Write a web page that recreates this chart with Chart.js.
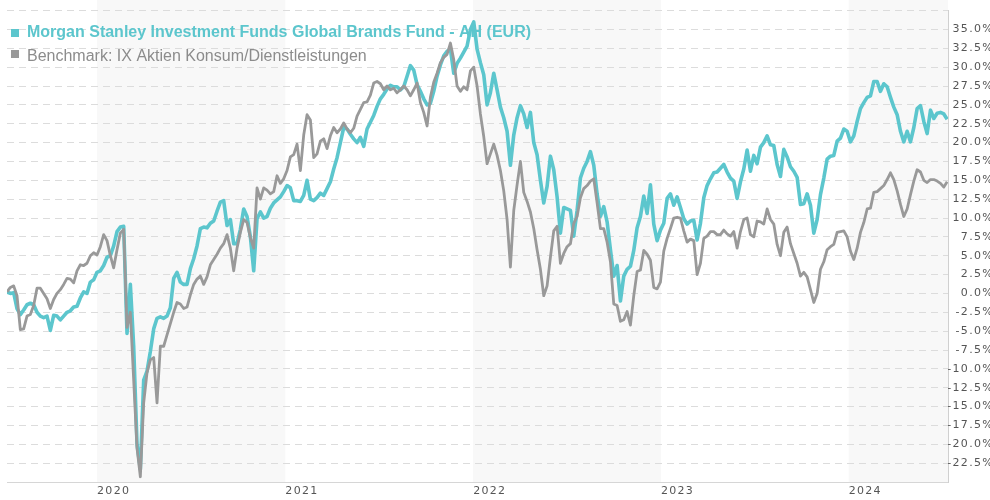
<!DOCTYPE html>
<html>
<head>
<meta charset="utf-8">
<style>
html,body{margin:0;padding:0;background:#fff;overflow:hidden;}
#wrap{width:990px;height:500px;position:relative;overflow:hidden;}
</style>
<script src="https://cdn.jsdelivr.net/npm/chart.js@4.4.1/dist/chart.umd.min.js"></script>
</head>
<body>
<div id="wrap"><canvas id="c" width="990" height="500"></canvas></div>
<script>
// ---- data ----
const fundName = 'Morgan Stanley Investment Funds Global Brands Fund - AH (EUR)';
const benchName = 'Benchmark: IX Aktien Konsum/Dienstleistungen';
const startDate = Date.UTC(2019, 6, 10);   // first observation
const endDate = Date.UTC(2024, 6, 12);     // right edge of the plot
const stepDays = 6.48;                     // spacing of observations
const yearTicks = [2020, 2021, 2022, 2023, 2024];
const shadedYears = [2020, 2022, 2024];
const yTicks = [-25, -22.5, -20, -17.5, -15, -12.5, -10, -7.5, -5, -2.5, 0, 2.5, 5, 7.5, 10, 12.5, 15, 17.5, 20, 22.5, 25, 27.5, 30, 32.5, 35, 37.5];

const fund = [
 0.2, 0.0, 0.1, -2.0, -2.8, -2.2, -1.5, -1.3, -1.5, -2.5,
 -3.0, -3.2, -3.0, -4.9, -2.9, -3.0, -3.5, -3.0, -2.5, -2.3,
 -1.8, -1.7, -0.6, 0.2, 0.0, 1.5, 1.8, 2.8, 3.0, 3.7,
 4.8, 5.0, 6.3, 8.2, 8.8, 8.9, -5.3, 1.2, -7.0, -20.0,
 -23.3, -11.5, -10.3, -7.7, -4.7, -3.3, -3.1, -3.3, -3.0, -1.9,
 2.0, 2.8, 1.5, 1.2, 1.2, 3.3, 4.6, 6.3, 8.6, 8.8,
 8.7, 9.3, 9.6, 10.9, 12.1, 12.3, 9.0, 9.8, 6.6, 6.6,
 8.5, 11.2, 10.2, 7.5, 3.0, 9.9, 10.8, 10.0, 10.2, 11.3,
 12.0, 12.4, 12.8, 13.5, 14.3, 14.0, 12.3, 12.3, 12.2, 13.0,
 15.0, 12.5, 12.3, 12.7, 13.3, 13.0, 13.9, 14.8, 16.5, 18.0,
 20.0, 22.0, 21.8, 21.1, 20.5, 20.0, 20.7, 19.5, 21.8, 22.7,
 23.6, 24.8, 25.8, 26.4, 27.1, 27.6, 27.4, 27.4, 27.0, 27.4,
 28.8, 30.2, 29.6, 27.7, 26.8, 25.8, 25.0, 25.2, 26.8, 28.8,
 30.3, 31.5, 32.1, 32.4, 29.2, 30.5, 31.2, 32.0, 32.8, 35.0,
 36.0, 32.4, 30.6, 29.0, 25.0, 26.6, 29.2, 27.0, 24.7, 23.3,
 21.5, 17.0, 21.0, 23.3, 24.9, 23.8, 22.0, 24.0, 20.0, 18.4,
 15.0, 12.0, 14.2, 18.2, 16.4, 12.8, 8.0, 11.4, 11.2, 11.0,
 7.6, 11.0, 15.3, 16.6, 17.5, 18.8, 17.0, 13.2, 10.2, 11.5,
 9.5, 5.8, 2.3, 3.7, -1.0, 2.3, 3.2, 3.6, 5.7, 8.7,
 10.2, 12.9, 10.6, 14.4, 9.2, 7.0, 8.4, 9.3, 12.6, 13.2,
 11.7, 12.8, 11.4, 9.9, 9.2, 9.6, 9.7, 7.1, 9.3, 12.7,
 14.3, 15.2, 16.0, 16.1, 16.6, 17.1, 16.1, 15.3, 14.9, 12.6,
 14.8, 16.5, 19.0, 16.2, 18.3, 17.2, 19.4, 20.0, 20.9, 19.7,
 19.6, 17.1, 15.5, 19.1, 18.1, 16.8, 16.2, 15.4, 11.8, 11.9,
 13.2, 11.7, 8.0, 9.8, 13.1, 15.3, 17.8, 18.2, 18.3, 20.2,
 20.6, 21.8, 21.5, 20.1, 20.9, 22.8, 24.5, 25.3, 26.0, 26.2,
 28.1, 28.1, 26.8, 27.8, 27.4, 26.0, 24.7, 23.7, 21.5, 20.1,
 21.5, 20.1, 22.0, 24.5, 24.9, 22.8, 21.2, 24.3, 23.2, 23.9,
 24.0, 23.8, 23.1
];

const benchmark = [
 0.2, 0.8, 1.0, -0.3, -4.8, -4.7, -3.0, -2.8, -1.6, 0.7,
 0.7, 0.0, -0.7, -2.0, -0.8, 0.0, 0.5, 1.2, 2.0, 1.9,
 1.4, 3.0, 3.8, 3.7, 4.0, 5.0, 5.4, 5.1, 6.2, 7.8,
 7.0, 5.0, 3.4, 5.8, 8.0, 8.5, -4.5, -2.5, -11.5, -20.5,
 -24.3, -14.5, -10.5, -8.8, -8.5, -14.5, -7.0, -7.0, -5.5, -4.0,
 -2.5, -1.2, -1.4, -2.0, -1.8, -0.2, 1.2, 1.9, 2.3, 1.2,
 2.2, 3.8, 4.5, 5.2, 6.0, 6.6, 7.8, 6.0, 3.0, 6.0,
 8.1, 9.8, 9.4, 7.4, 6.0, 14.0, 12.5, 14.0, 13.7, 13.2,
 13.5, 15.6, 14.6, 15.2, 16.3, 18.1, 18.4, 19.8, 16.3, 21.0,
 23.7, 23.0, 18.0, 18.5, 20.2, 20.5, 19.2, 20.9, 22.0, 21.3,
 21.8, 22.6, 21.8, 21.3, 21.9, 23.5, 24.4, 25.3, 25.4, 26.3,
 27.9, 28.1, 27.8, 27.0, 27.5, 27.0, 27.2, 26.6, 27.0, 27.5,
 27.0, 26.2, 27.0, 27.9, 25.3, 24.0, 22.2, 26.0, 28.0, 29.2,
 30.6, 31.3, 31.7, 33.2, 31.0, 27.5, 26.8, 27.4, 27.0, 29.5,
 30.0, 27.5, 23.8, 20.8, 17.2, 18.5, 19.8, 18.3, 16.3, 13.6,
 9.8, 3.5, 11.0, 14.4, 17.5, 13.4, 12.2, 10.8, 8.6, 5.8,
 3.2, -0.3, 1.0, 4.8, 8.3, 8.9, 4.0, 5.3, 6.2, 6.6,
 9.3, 10.2, 12.7, 13.9, 14.3, 14.9, 15.2, 12.0, 8.6, 8.6,
 6.8, 4.2, -1.4, -1.6, -3.7, -3.5, -2.4, -4.2, -0.3, 2.9,
 3.1, 5.7, 5.2, 4.4, 0.8, 0.6, 1.5, 5.6, 7.3, 8.6,
 10.0, 10.1, 10.0, 8.3, 6.8, 7.2, 7.0, 2.5, 4.0, 7.3,
 7.6, 8.2, 8.2, 7.8, 7.8, 8.4, 7.9, 7.6, 8.2, 6.0,
 8.2, 9.8, 10.0, 7.8, 7.5, 9.6, 9.5, 9.2, 11.2, 9.8,
 9.2, 6.5, 5.0, 8.1, 8.8, 6.6, 5.3, 4.0, 2.3, 2.8,
 2.2, 0.5, -1.2, 0.0, 3.2, 4.2, 5.8, 6.2, 6.5, 8.1,
 8.2, 8.3, 7.5, 5.6, 4.5, 6.0, 8.1, 9.4, 11.2, 11.3,
 13.4, 13.5, 13.9, 14.3, 15.1, 16.0, 15.1, 13.6, 11.8, 10.2,
 11.2, 13.1, 14.9, 16.4, 16.1, 15.0, 14.7, 15.1, 15.1, 14.9,
 14.6, 14.1, 14.8
];

// ---- styling ----
const fundColor = '#5cc6cd';
const benchColor = '#999999';
const DAY = 864e5;
const dates = fund.map((_, i) => startDate + i * stepDays * DAY);
const toPoints = arr => arr.map((v, i) => ({ x: dates[i], y: v }));

const bandsPlugin = {
  id: 'yearBands',
  beforeDraw(chart) {
    const { ctx, chartArea, scales } = chart;
    ctx.save();
    ctx.fillStyle = '#f8f8f8';
    shadedYears.forEach(y => {
      let x0 = scales.x.getPixelForValue(Date.UTC(y, 0, 1));
      let x1 = scales.x.getPixelForValue(Date.UTC(y + 1, 0, 1));
      x0 = Math.max(x0, chartArea.left);
      x1 = Math.min(x1, chartArea.right);
      if (x1 > x0) ctx.fillRect(x0, 0, x1 - x0, chartArea.bottom);
    });
    ctx.restore();
    // wide axis lettering as in the original
    ctx.letterSpacing = '1.3px';
  },
  afterDraw(chart) {
    chart.ctx.letterSpacing = '0px';
  }
};

const legendPlugin = {
  id: 'overlayLegend',
  beforeDatasetsDraw(chart) {
    const ctx = chart.ctx;
    ctx.save();
    ctx.letterSpacing = '0px';
    ctx.textBaseline = 'alphabetic';
    ctx.textAlign = 'left';
    ctx.fillStyle = fundColor;
    ctx.fillRect(11, 29, 8, 8);
    ctx.font = 'bold 16px "Liberation Sans", Arial, sans-serif';
    ctx.fillText(fundName, 27, 37);
    ctx.fillStyle = benchColor;
    ctx.fillRect(11, 50, 8, 8);
    ctx.fillStyle = '#8c8c8c';
    ctx.font = '16px "Liberation Sans", Arial, sans-serif';
    ctx.fillText(benchName, 27, 61);
    ctx.restore();
  }
};

new Chart(document.getElementById('c'), {
  type: 'line',
  data: {
    datasets: [
      { label: fundName, data: toPoints(fund), borderColor: fundColor, backgroundColor: fundColor,
        borderWidth: 3.6, pointRadius: 0, tension: 0, order: 2, borderJoinStyle: 'round' },
      { label: benchName, data: toPoints(benchmark), borderColor: benchColor, backgroundColor: benchColor,
        borderWidth: 2.8, pointRadius: 0, tension: 0, order: 1, borderJoinStyle: 'round' }
    ]
  },
  options: {
    responsive: false,
    animation: false,
    devicePixelRatio: 1,
    layout: { padding: { left: 7, top: 7, right: -4, bottom: 0 } },
    plugins: { legend: { display: false }, tooltip: { enabled: false } },
    scales: {
      x: {
        type: 'linear',
        min: startDate,
        max: endDate,
        grid: { display: false, drawTicks: false },
        border: { display: true, color: '#d6d6d6', width: 1 },
        afterBuildTicks: s => { s.ticks = yearTicks.map(y => ({ value: Date.UTC(y, 0, 1) })); },
        afterFit: s => { s.height = 18; },
        ticks: {
          align: 'start', padding: 3, maxRotation: 0, autoSkip: false,
          color: '#555', font: { family: 'DejaVu Sans', size: 11 },
          callback: v => String(new Date(v).getUTCFullYear())
        }
      },
      y: {
        position: 'right',
        min: -25, max: 37.5,
        afterBuildTicks: s => { s.ticks = yTicks.map(v => ({ value: v })); },
        afterFit: s => { s.width = 46; },
        grid: { color: '#dcdcdc', lineWidth: 1, drawTicks: false },
        border: { display: true, color: '#d0d0d0', width: 1, dash: [7, 5] },
        ticks: {
          crossAlign: 'far', padding: 4,
          color: '#555', font: { family: 'DejaVu Sans', size: 11 },
          callback: v => (v <= -25 || v >= 37.5) ? '' : v.toFixed(1) + '%'
        }
      }
    }
  },
  plugins: [bandsPlugin, legendPlugin]
});
</script>
</body>
</html>
